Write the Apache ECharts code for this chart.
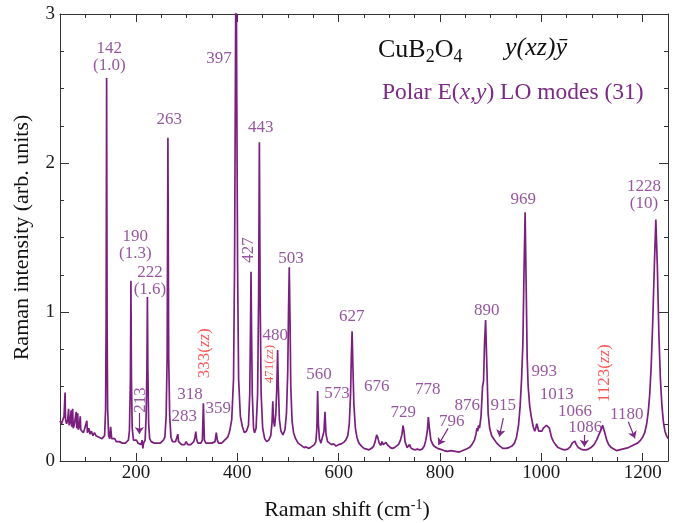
<!DOCTYPE html>
<html>
<head>
<meta charset="utf-8">
<script src="https://cdn.jsdelivr.net/npm/echarts@6/dist/echarts.min.js"></script>
<style>
html,body{margin:0;padding:0;background:#fff;}
#chart{width:685px;height:523px;}
</style>
</head>
<body>
<div id="chart"></div>
<script>
// ---- Spectrum (Raman shift in cm-1, intensity in arb. units) ----
const ramanShift = [
 50,53,56,58,60,61,63,65,67,68,70,72,73,75,76,78,80,82,83,85,86,88,90,91,94,96,98,100,103,104,107,109,112,115,118,121,124,127,130,133,136,138,
 140,141,142,143,144,146,148,150,152,155,158,161,164,167,170,173,176,179,182,185,187,189,190,191,192.5,195,198,201,204,207,210,212,213.5,215,218,
 220,221.5,222.5,223.5,225,227,230,233,236,239,242,245,248,251,254,257,259.5,261.5,263,264.5,266.5,269,272,275,278,281,282.5,284,287,290,293,296,299,
 302,305,308,311,314,316.5,318,319.5,322,325,328,331,333,335,338,341,344,347,350,353,356,358.5,360.5,363,366,369,372,375,378,381,384,386,389,
 392.5,394.5,396,397.5,399,400.5,402.5,406,410,414,418,422,424.5,426,427,428,429.5,432,434,437,440,442,443.5,445,447,450,454,458,462,466,468.5,470,
 471.5,473.5,476,478,479.5,481,483,486,490,494,497,499.5,501,502.5,504,505.5,508,511,515,520,524,528,532,536,540,544,548,552,555,557,558.5,560,562,
 565,568,571,573,575,578,582,586,590,595,600,605,610,614,618,621,623.5,625,626.5,628,630,633,636,640,645,650,655,660,665,669,672,675,677,680,683,
 685.5,688,691,693.5,696,699,702,706,710,714,718,722,725,727,729,731,735,738,740,742,746,750,755,760,765,769,772,775,777,779,782,786,790,795,800,
 808,815,822,830,838,845,852,858,863,868,871,873,874.5,876,878,881,884,886,888,890,892,895,898,902,906,912,918,924,930,936,942,947,951,955,958,961,
 963.5,966,968,970,972,974,977,980,984,987,989,991,993,995,998,1001,1004,1007,1010,1013,1016,1020,1024,1028,1033,1040,1046,1052,1057,1061,1064,1066,
 1069,1073,1078,1083,1088,1093,1098,1104,1109,1114,1118,1121,1123,1126,1129,1133,1138,1143,1148,1154,1160,1166,1172,1178,1184,1190,1196,1200,1204,
 1208,1211,1214,1217,1220,1223,1226,1229,1232,1235,1238,1241,1244,1247,1250
];
const intensity = [
 0.27,0.25,0.26,0.30,0.46,0.28,0.25,0.27,0.35,0.24,0.26,0.34,0.23,0.35,0.22,0.24,0.23,0.33,0.22,0.32,0.21,0.23,0.30,0.21,0.22,0.19,0.21,0.20,0.27,0.19,0.22,0.18,0.20,0.17,0.19,0.17,0.18,0.16,0.17,0.15,0.16,0.17,
 0.35,0.9,2.57,0.9,0.35,0.17,0.15,0.23,0.15,0.14,0.15,0.13,0.14,0.13,0.14,0.12,0.13,0.12,0.13,0.14,0.2,0.55,1.21,0.55,0.22,0.14,0.13,0.14,0.12,0.13,0.11,0.14,0.085,0.12,0.14,
 0.3,0.6,1.10,0.6,0.25,0.15,0.13,0.14,0.12,0.13,0.12,0.13,0.12,0.13,0.14,0.16,0.3,0.7,2.17,0.7,0.3,0.16,0.13,0.12,0.13,0.14,0.18,0.13,0.12,0.11,0.12,0.11,0.13,
 0.11,0.12,0.11,0.12,0.13,0.16,0.197,0.15,0.12,0.11,0.12,0.14,0.387,0.14,0.12,0.11,0.12,0.11,0.12,0.11,0.13,0.19,0.14,0.12,0.13,0.12,0.13,0.14,0.15,0.16,0.19,0.22,0.28,
 0.55,1.3,2.4,3.6,2.4,1.3,0.55,0.3,0.23,0.19,0.2,0.24,0.45,0.9,1.27,0.9,0.45,0.22,0.19,0.22,0.45,1.1,2.14,1.1,0.45,0.22,0.15,0.13,0.14,0.17,0.26,0.40,
 0.27,0.23,0.32,0.5,0.745,0.5,0.28,0.2,0.175,0.21,0.32,0.6,1.0,1.30,0.95,0.5,0.27,0.19,0.15,0.12,0.11,0.10,0.09,0.095,0.085,0.09,0.10,0.11,0.13,0.22,0.47,0.25,0.15,
 0.12,0.13,0.2,0.33,0.18,0.13,0.12,0.11,0.115,0.10,0.11,0.115,0.125,0.14,0.17,0.25,0.45,0.7,0.87,0.65,0.38,0.22,0.16,0.12,0.10,0.085,0.08,0.075,0.085,0.10,0.13,0.175,0.16,0.12,0.105,
 0.13,0.11,0.11,0.125,0.11,0.10,0.09,0.085,0.09,0.10,0.11,0.14,0.18,0.237,0.2,0.13,0.09,0.10,0.11,0.09,0.08,0.075,0.08,0.075,0.08,0.10,0.14,0.2,0.295,0.22,0.14,0.11,0.095,0.085,0.08,
 0.07,0.065,0.07,0.065,0.06,0.07,0.08,0.09,0.11,0.14,0.18,0.22,0.2,0.24,0.22,0.3,0.5,0.54,0.8,0.946,0.7,0.32,0.22,0.17,0.15,0.12,0.10,0.085,0.085,0.09,0.10,0.12,0.16,0.24,0.36,0.55,
 0.78,1.3,1.67,1.2,0.7,0.5,0.37,0.3,0.23,0.2,0.22,0.25,0.24,0.2,0.19,0.2,0.22,0.23,0.24,0.25,0.22,0.16,0.13,0.11,0.09,0.08,0.075,0.08,0.095,0.12,0.13,0.134,
 0.11,0.09,0.08,0.075,0.075,0.08,0.09,0.11,0.14,0.18,0.21,0.24,0.235,0.18,0.14,0.11,0.09,0.08,0.07,0.075,0.08,0.085,0.09,0.10,0.11,0.12,0.14,0.16,0.19,
 0.25,0.33,0.45,0.65,0.95,1.3,1.62,1.3,0.85,0.55,0.37,0.26,0.2,0.17,0.15
];

// ---- Tick values ----
const xMajorTicks = [200, 400, 600, 800, 1000, 1200];
const xMinorTicks = [100, 150, 250, 300, 350, 450, 500, 550, 650, 700, 750, 850, 900, 950, 1050, 1100, 1150, 1250];

// ---- Peak annotations (text, anchor in data coordinates) ----
const peakLabels = ['142\n(1.0)','397','263','443','190\n(1.3)','222\n(1.6)','503','283','318','359','480','560','573','627','676','729','778','796','876','890','915','969','993','1013','1066','1086','1180','1228\n(10)'];
const peakLabelX = [147.3,363.8,265.7,446,198.6,227.6,505.9,295.3,306.6,362.4,474.9,561.2,596.7,625.7,675,727.6,775.7,823,854,892.2,925,964.4,1005.8,1030.3,1066.5,1086.6,1168.5,1202.6];
const peakLabelY = [2.71,2.70,2.29,2.24,1.45,1.208,1.362,0.297,0.443,0.349,0.839,0.577,0.45,0.968,0.499,0.324,0.481,0.264,0.371,1.009,0.371,1.758,0.6,0.447,0.331,0.227,0.313,1.785];

// rotated purple labels
const vertLabels = ['427','213'];
const vertLabelX = [422, 208.5];
const vertLabelY = [1.416, 0.409];

// rotated red (zz) labels
const zzLabels = ['333', '471', '1123'];
const zzLabelX = [336.2, 464.5, 1125.7];
const zzLabelY = [0.723, 0.651, 0.589];

// arrows [x1, y1, x2, y2]
const arrowFromX = [206.6, 816, 925, 1085, 1171.6];
const arrowFromY = [0.322, 0.219, 0.287, 0.174, 0.264];
const arrowToX   = [206.6, 796.6, 917.1, 1085, 1184.8];
const arrowToY   = [0.181, 0.107, 0.163, 0.096, 0.152];

const FONT = 'Liberation Serif';
const PURPLE = '#7c2a86';
const LINE = '#7a1f7e';
const RED = '#ff2a2a';
const AX = '#333';

const lineData = ramanShift.map((x, i) => [x, intensity[i]]);

const labelData = [];
peakLabels.forEach((t, i) => labelData.push({
  value: [peakLabelX[i], peakLabelY[i]],
  label: { formatter: t }
}));
vertLabels.forEach((t, i) => labelData.push({
  value: [vertLabelX[i], vertLabelY[i]],
  label: { formatter: t, rotate: 90 }
}));
zzLabels.forEach((t, i) => labelData.push({
  value: [zzLabelX[i], zzLabelY[i]],
  label: { formatter: t + '({i|zz})', rotate: 90, color: RED,
           fontSize: t === '471' ? 13 : 17,
           rich: { i: { fontStyle: 'italic', fontFamily: FONT, color: RED, fontSize: t === '471' ? 13 : 17 } } }
}));

const arrowData = arrowFromX.map((x, i) => ({ coords: [[x, arrowFromY[i]], [arrowToX[i], arrowToY[i]]] }));

function xAxisDef(pos, major) {
  const vals = major ? xMajorTicks : xMinorTicks;
  const a = {
    type: 'value', min: 50, max: 1250, position: pos, gridIndex: 0,
    axisLine: { show: major, onZero: false, lineStyle: { color: AX, width: 1 } },
    axisTick: { show: true, inside: true, length: major ? 8 : 4, customValues: vals, lineStyle: { color: AX, width: 1 } },
    axisLabel: { show: false },
    splitLine: { show: false }
  };
  if (major && pos === 'bottom') {
    a.axisLabel = { show: true, customValues: xMajorTicks, fontFamily: FONT, fontSize: 19, color: '#1a1a1a', margin: 3,
                    formatter: v => String(v) };
    a.name = 'Raman shift (cm{sup|-1})';
    a.nameLocation = 'middle';
    a.nameGap = 37;
    a.nameTextStyle = { fontFamily: FONT, fontSize: 22, color: '#111', padding: [0, 34, 0, 0],
      rich: { sup: { fontFamily: FONT, fontSize: 14, color: '#111', verticalAlign: 'top', padding: [0, 0, 10, 0] } } };
  }
  return a;
}

function yAxisDef(pos) {
  const a = {
    type: 'value', min: 0, max: 3, interval: 1, position: pos,
    axisLine: { show: true, onZero: false, lineStyle: { color: AX, width: 1 } },
    axisTick: { show: true, inside: true, length: 9, lineStyle: { color: AX, width: 1 } },
    minorTick: { show: true, splitNumber: 4, length: 4, lineStyle: { color: AX, width: 1 } },
    axisLabel: { show: false },
    splitLine: { show: false }
  };
  if (pos === 'left') {
    a.axisLabel = { show: true, fontFamily: FONT, fontSize: 19, color: '#1a1a1a', margin: 5 };
    a.name = 'Raman intensity (arb. units)';
    a.nameLocation = 'middle';
    a.nameGap = 27;
    a.nameTextStyle = { fontFamily: FONT, fontSize: 22, color: '#111' };
  }
  return a;
}

const option = {
  animation: false,
  backgroundColor: '#fff',
  title: [
    { text: '{n|CuB}{s|2}{n|O}{s|4}', left: 378, top: 34, padding: 0,
      textStyle: { fontFamily: FONT, fontSize: 26, color: '#111', fontWeight: 'normal',
        rich: { n: { fontFamily: FONT, fontSize: 26, color: '#111' },
                s: { fontFamily: FONT, fontSize: 18, color: '#111', padding: [14, 0, 0, 0] } } } },
    { text: 'y(xz)ȳ', left: 505, top: 35, padding: 0,
      textStyle: { fontFamily: FONT, fontSize: 26, color: '#111', fontStyle: 'italic', fontWeight: 'normal' } },
    { text: 'Polar E({i|x,y}) LO modes (31)', left: 382, top: 81, padding: 0,
      textStyle: { fontFamily: FONT, fontSize: 23.5, color: PURPLE, fontWeight: 'normal',
        rich: { i: { fontFamily: FONT, fontSize: 23.5, color: PURPLE, fontStyle: 'italic' } } } }
  ],
  grid: { left: 60, right: 17, top: 14, bottom: 62, containLabel: false, outerBoundsMode: 'none' },
  xAxis: [xAxisDef('bottom', true), xAxisDef('bottom', false), xAxisDef('top', true), xAxisDef('top', false)],
  yAxis: [yAxisDef('left'), yAxisDef('right')],
  series: [
    { type: 'line', xAxisIndex: 0, yAxisIndex: 0, data: lineData, showSymbol: false, symbol: 'none',
      clip: true, lineStyle: { color: LINE, width: 1.7 }, z: 3 },
    { type: 'scatter', xAxisIndex: 0, yAxisIndex: 0, data: labelData, symbolSize: 1,
      itemStyle: { color: 'transparent' }, silent: true, clip: false, z: 5,
      label: { show: true, position: 'inside', fontFamily: FONT, fontSize: 17, color: PURPLE, lineHeight: 17 } },
    { type: 'lines', coordinateSystem: 'cartesian2d', xAxisIndex: 0, yAxisIndex: 0, data: arrowData,
      symbol: ['none', 'arrow'], symbolSize: 7, lineStyle: { color: PURPLE, width: 1.2, opacity: 1, curveness: 0 }, z: 4 }
  ]
};

const chart = echarts.init(document.getElementById('chart'), null, { renderer: 'canvas' });
chart.setOption(option);
</script>
</body>
</html>
